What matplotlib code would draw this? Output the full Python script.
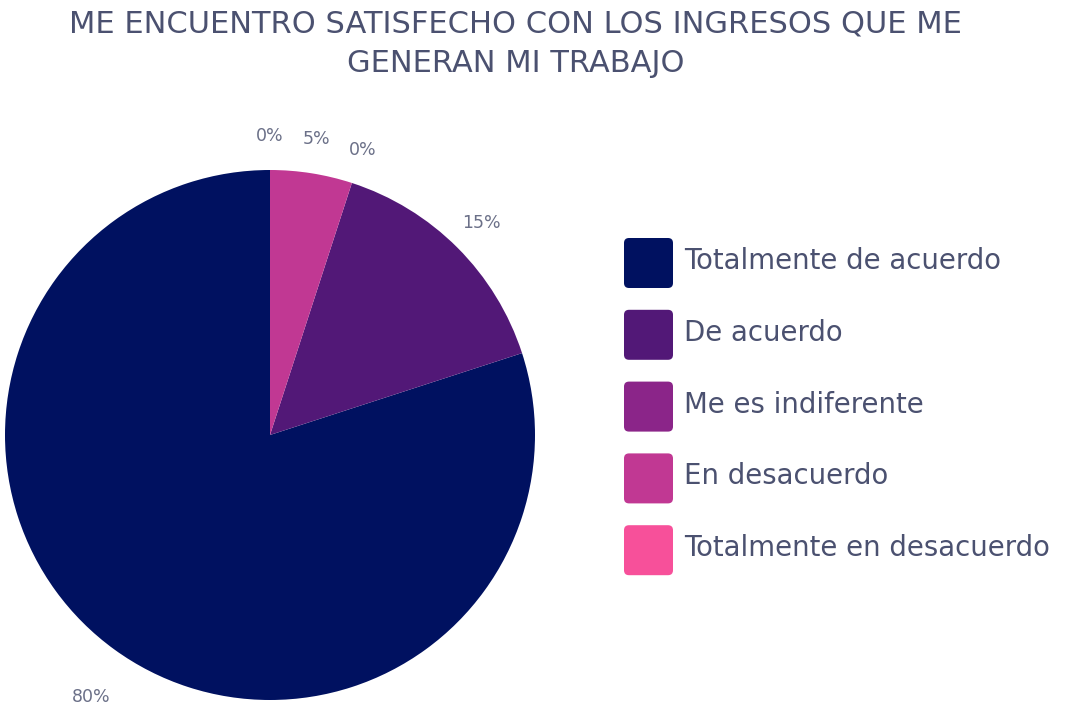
import matplotlib.pyplot as plt
from matplotlib.patches import FancyBboxPatch
import numpy as np

# data
categories = ['Totalmente de acuerdo', 'De acuerdo', 'Me es indiferente',
              'En desacuerdo', 'Totalmente en desacuerdo']
values = [80, 15, 0, 5, 0]
colors = ['#001160', '#521877', '#8b2589', '#c13893', '#f7509a']
title = 'ME ENCUENTRO SATISFECHO CON LOS INGRESOS QUE ME\nGENERAN MI TRABAJO'

text_color = '#4b5170'
plt.rcParams['font.family'] = ['DejaVu Sans']

fig = plt.figure(figsize=(10.7, 7.11), dpi=100)

# pie axes placed so the circle sits at the left
ax = fig.add_axes([5 / 1070, 11 / 711, 530 / 1070, 530 / 711])
wedges, texts = ax.pie(values, colors=colors, startangle=90, counterclock=True,
                       labels=['%d%%' % v for v in values], labeldistance=1.13,
                       wedgeprops=dict(linewidth=0),
                       textprops=dict(color='#6b7088', fontsize=12.5))
for w, t in zip(wedges, texts):
    t.set_ha('center')
    t.set_va('center')
    # push the big slice label a bit further out
    if w.theta2 - w.theta1 > 180:
        mid = np.deg2rad((w.theta1 + w.theta2) / 2)
        t.set_position((1.2 * np.cos(mid) + 0.03, 1.22 * np.sin(mid)))
ax.set_xlim(-1, 1)
ax.set_ylim(-1, 1)
ax.set_aspect('equal')
ax.axis('off')

fig.text(0.482, 0.986, title, ha='center', va='top', fontsize=22,
         color=text_color, linespacing=1.45)

# legend with rounded squares
lax = fig.add_axes([0, 0, 1, 1])
lax.set_xlim(0, 1070)
lax.set_ylim(711, 0)
lax.axis('off')
for i, (cat, col) in enumerate(zip(categories, colors)):
    yc = 263 + i * 71.8
    lax.add_patch(FancyBboxPatch((624, yc - 25), 49, 50,
                                 boxstyle='round,pad=0,rounding_size=5',
                                 facecolor=col, edgecolor='none'))
    lax.text(684, yc - 2, cat, va='center', ha='left', fontsize=19.8,
             color=text_color)

fig.savefig('out.png', dpi=100, facecolor='white')
